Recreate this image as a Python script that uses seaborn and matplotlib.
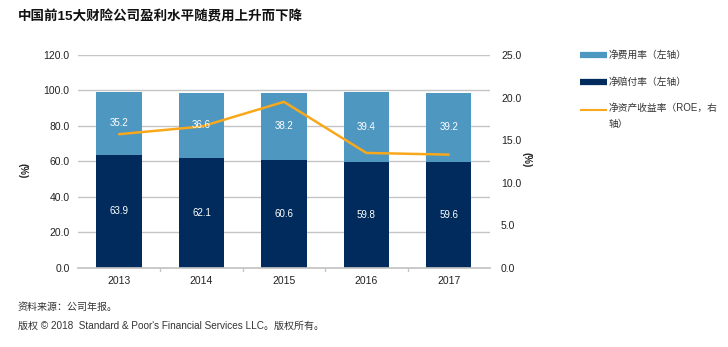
import matplotlib
matplotlib.use("Agg")
import matplotlib.pyplot as plt
import seaborn as sns
import pandas as pd

years = ["2013", "2014", "2015", "2016", "2017"]
expense_ratio = [35.2, 36.6, 38.2, 39.4, 39.2]
loss_ratio = [63.9, 62.1, 60.6, 59.8, 59.6]
roe = [15.7, 16.6, 19.5, 13.5, 13.3]

left_ticks = [0, 20, 40, 60, 80, 100, 120]
right_ticks = [0, 5, 10, 15, 20, 25]

sns.set_theme(style="white")
plt.rcParams["font.family"] = ["Liberation Sans", "Noto Sans CJK SC", "DejaVu Sans"]

LIGHT = "#4E97C0"
DARK = "#002B5C"
ORANGE = "#F9A81C"
GRID = "#C4C4C4"
TXT = "#222222"

df = pd.DataFrame({
    "year": years,
    "expense": expense_ratio,
    "loss": loss_ratio,
    "roe": roe,
})
df["combined"] = df["expense"] + df["loss"]
df["pos"] = range(len(df))

fig = plt.figure(figsize=(7.28, 3.47), dpi=100)
ax = fig.add_axes([0.107, 0.228, 0.566, 0.6135])

# stacked bars: full combined ratio in light blue, loss ratio drawn over it
sns.barplot(data=df, x="year", y="combined", color=LIGHT, width=0.55,
            saturation=1, linewidth=0, edgecolor="none", ax=ax, zorder=2)
sns.barplot(data=df, x="year", y="loss", color=DARK, width=0.55,
            saturation=1, linewidth=0, edgecolor="none", ax=ax, zorder=2)

ax.set_ylim(0, 120)
ax.set_xlim(-0.5, 4.5)
ax.set_yticks(left_ticks)
ax.set_yticklabels([f"{t:.1f}" for t in left_ticks], fontsize=7.5, color=TXT)
ax.yaxis.grid(True, color=GRID, linewidth=1, zorder=0)
ax.set_axisbelow(True)
for s in ["top", "right", "left"]:
    ax.spines[s].set_visible(False)
ax.spines["bottom"].set_color(GRID)
ax.tick_params(axis="y", length=0, pad=6)
ax.set_xlabel("")
ax.set_ylabel("")
ax.set_xticks(range(len(years)))
ax.set_xticklabels(years, fontsize=7.5, color=TXT)
ax.tick_params(axis="x", length=0, pad=6)
# small tick marks between categories
for b in [0.5, 1.5, 2.5, 3.5]:
    ax.plot([b, b], [0, -1.5], color=GRID, lw=1, clip_on=False, zorder=1)

# ROE on the secondary axis
ax2 = ax.twinx()
sns.lineplot(data=df, x="pos", y="roe", color=ORANGE, linewidth=1.8, ax=ax2)
ax2.set_ylim(0, 25)
ax2.set_xlim(-0.5, 4.5)
ax2.set_yticks(right_ticks)
ax2.set_yticklabels([f"{t:.1f}" for t in right_ticks], fontsize=7.5, color=TXT)
ax2.tick_params(axis="y", length=0, pad=8)
ax2.set_xlabel("")
ax2.set_ylabel("")
for s in ax2.spines.values():
    s.set_visible(False)
ax2.grid(False)
ax.set_zorder(0)
ax2.set_zorder(1)
ax2.patch.set_visible(False)

# value labels, drawn above the ROE line (converted to right-axis units)
scale = 25 / 120
for i, (e, l) in enumerate(zip(expense_ratio, loss_ratio)):
    ax2.text(i, l / 2 * scale, f"{l:.1f}", ha="center", va="center",
             color="white", fontsize=7, zorder=6)
    ax2.text(i, (l + e / 2) * scale, f"{e:.1f}", ha="center", va="center",
             color="white", fontsize=7, zorder=6)

# axis unit labels
fig.text(22 / 728, 1 - 171 / 347, "(%)", rotation=-90, ha="center", va="center",
         fontsize=7, fontweight="bold", color=TXT)
fig.text(527 / 728, 1 - 160 / 347, "(%)", rotation=-90, ha="center", va="center",
         fontsize=7, fontweight="bold", color=TXT)

# legend
legend_items = [
    (LIGHT, 4.5, "净费用率（左轴）", 55),
    (DARK, 4.5, "净赔付率（左轴）", 82),
    (ORANGE, 1.5, "净资产收益率（ROE，右\n轴）", 110),
]
for color, lw, label, ypx in legend_items:
    yf = 1 - ypx / 347
    fig.add_artist(plt.Line2D([580 / 728, 607 / 728], [yf, yf], color=color,
                              lw=lw, solid_capstyle="butt",
                              transform=fig.transFigure))
    multi = "\n" in label
    fig.text(609 / 728, yf + 0.02 if multi else yf, label,
             ha="left", va="top" if multi else "center",
             fontsize=7, color="#333333", linespacing=1.7)

# title and footer
fig.text(18 / 728, 1 - 17 / 347, "中国前15大财险公司盈利水平随费用上升而下降",
         ha="left", va="center", fontsize=9.7, fontweight="bold", color="#111111")
fig.text(18 / 728, 1 - 307 / 347, "资料来源：公司年报。", ha="left", va="center",
         fontsize=7.2, color="#333333")
fig.text(18 / 728, 1 - 326 / 347,
         "版权 © 2018  Standard & Poor's Financial Services LLC。版权所有。",
         ha="left", va="center", fontsize=7.2, color="#333333")

fig.savefig("out.png", dpi=100)
